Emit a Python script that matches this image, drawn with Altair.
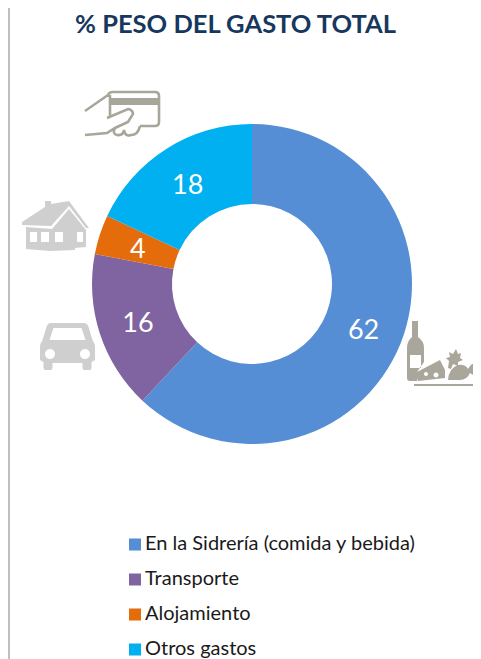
import re
import altair as alt
import pandas as pd

TITLE = "% PESO DEL GASTO TOTAL"
categories = ["En la Sidrería (comida y bebida)", "Transporte", "Alojamiento", "Otros gastos"]
values = [62, 16, 4, 18]
colors = ["#558ED5", "#8064A2", "#E46C0A", "#00B0F0"]

FONT = "Lato"
W, H = 465, 651
CX, CY = 252 - 8, 284 - 8


def shift(path, dx=0.0, dy=0.0):
    """Move page-pixel path pairs into chart pixels."""
    def rep(m):
        return f"{float(m.group(1)) + dx - 8:.2f},{float(m.group(2)) + dy - 8:.2f}"
    return re.sub(r"(-?\d+\.?\d*),(-?\d+\.?\d*)", rep, path)


def hole(cx, cy, r):
    k = r * 0.552
    return (f"M{cx+r},{cy} C{cx+r},{cy-k} {cx+k},{cy-r} {cx},{cy-r} "
            f"C{cx-k},{cy-r} {cx-r},{cy-k} {cx-r},{cy} "
            f"C{cx-r},{cy+k} {cx-k},{cy+r} {cx},{cy+r} "
            f"C{cx+k},{cy+r} {cx+r},{cy+k} {cx+r},{cy} Z ")


def rect_hole(x0, y0, x1, y1):
    return f"M{x0},{y0} L{x0},{y1} L{x1},{y1} L{x1},{y0} Z "


car = shift(
    "M-16,-23 L16,-23 Q20,-23 21,-19 L25,-6 Q27.5,-3 27.5,2 L27.5,14 L24,16 L24,22 Q24,24 22,24 "
    "L17,24 Q15,24 15,22 L15,17 L-15,17 L-15,22 Q-15,24 -17,24 L-22,24 Q-24,24 -24,22 L-24,16 "
    "L-27.5,14 L-27.5,2 Q-27.5,-3 -25,-6 L-21,-19 Q-20,-23 -16,-23 Z "
    "M-14,-18 L-18,-6 L18,-6 L14,-18 Z " + hole(-17.5, 8, 5) + hole(17.5, 8, 5),
    67.5, 346,
)

house = shift(
    "M22,222 L45,207 L45,201 L51,201 L51,204 L69,201 L89,228 L86,228 L69,206 L51,226 L22,225 Z "
    "M26,227 L52,229 L69,209 L86,230 L86,247 L75,248 L75,250 L50,251 L26,249 Z "
    + rect_hole(30, 232, 37, 242) + rect_hole(41, 232, 49, 242)
    + rect_hole(55, 232, 63, 242) + rect_hole(77, 232, 83, 242),
)

card_lines = shift(
    "M85,111 L108,95 Q109,92 113,92 L155,92 Q159,92 159,96 L159,122 Q159,126 155,126 L140,126 "
    "M110,95 L110,117 "
    "M107,118 L128,109 Q133,110 133,114 L128,122 L115,128 L107,133 L85,135 "
    "M115,128 Q112,134 117,135 Q123,136 124,130 Q125,137 131,135 Q138,135 140,126"
)

card_band = shift("M110,98 L159,98 L159,105 L110,105 Z")

food = shift(
    # bottle
    "M412,321 L418,321 L418,337 Q424,341 424,348 L424,362 L417,372 L417,381 L410,381 Q407,381 407,378 "
    "L407,348 Q407,341 412,337 Z "
    + rect_hole(410, 355, 421, 368) +
    # cheese
    "M415,373 L440,360 L445,370 L445,378 L418,381 Z "
    + hole(426, 374, 2) + hole(436, 375, 2.5) +
    # parsley
    "M448,368 L449,361 L446,358 L450,357 L449,352 L453,354 L456,349 L458,354 L461,353 L460,358 "
    "L463,360 L458,362 L458,366 L453,364 L451,369 Z "
    # roast chicken, its leg ending at the chart's right edge
    "M448,380 Q449,368 458,365 Q465,364 468,369 L470,366 L472,364 L473,364 L473,375 L470,373 "
    "Q467,380 460,380 Z "
    # plate
    "M414,384 L473,384 L473,386 L414,386 Z"
)

df = pd.DataFrame({"cat": categories, "val": values, "idx": range(4)})
one = alt.Data(values=[{"a": 1}])


def icon(path, color, **kw):
    return alt.Chart(one).mark_point(shape=path, size=4, color=color, opacity=1, **kw).encode(
        x=alt.value(0), y=alt.value(0)
    )


theta = alt.Theta("val:Q", stack=True, scale=alt.Scale(domain=[0, 100]))
order = alt.Order("idx:Q", sort="ascending")

arcs = alt.Chart(df).mark_arc(innerRadius=80, outerRadius=160).encode(
    theta=theta,
    order=order,
    x=alt.value(CX),
    y=alt.value(CY),
    color=alt.Color(
        "cat:N",
        sort=categories,
        scale=alt.Scale(domain=categories, range=colors),
        legend=alt.Legend(
            orient="none",
            legendX=117,
            legendY=519,
            title=None,
            symbolType="square",
            symbolSize=144,
            symbolStrokeWidth=0,
            labelFont=FONT,
            labelFontSize=20,
            labelColor="#1A1A1A",
            labelOffset=0,
            labelLimit=320,
            rowPadding=0,
            clipHeight=34.8,
            padding=0,
        ),
    ),
)

labels = alt.Chart(df).mark_text(
    radius=120, dy=3, font=FONT, fontSize=27, color="#FFFFFF", align="center", baseline="middle"
).encode(
    theta=theta,
    order=order,
    detail="cat:N",
    x=alt.value(CX),
    y=alt.value(CY),
    text="val:Q",
)

title = alt.Chart(one).mark_text(
    text=TITLE, font=FONT, fontSize=25.5, fontWeight="bold", color="#17375E", align="center", baseline="middle"
).encode(x=alt.value(235.5 - 8), y=alt.value(25 - 8))

frame = alt.Chart(one).mark_rule(color="#BFBFBF", strokeWidth=2).encode(
    x=alt.value(1), y=alt.value(-8), y2=alt.value(H)
)

chart = alt.layer(
    frame,
    arcs,
    labels,
    title,
    icon(card_lines, "#A8A59B", filled=False, strokeWidth=2.6),
    icon(card_band, "#A8A59B", filled=True),
    icon(house, "#CFCFCF", filled=True),
    icon(car, "#CFCFCF", filled=True),
    icon(food, "#A9A69C", filled=True),
).properties(
    width=W,
    height=H,
    padding=0,
    autosize=alt.AutoSizeParams(type="none"),
    background="#FFFFFF",
).configure_view(stroke=None)

chart.save("out.html", embed_options={"renderer": "svg", "actions": False})
